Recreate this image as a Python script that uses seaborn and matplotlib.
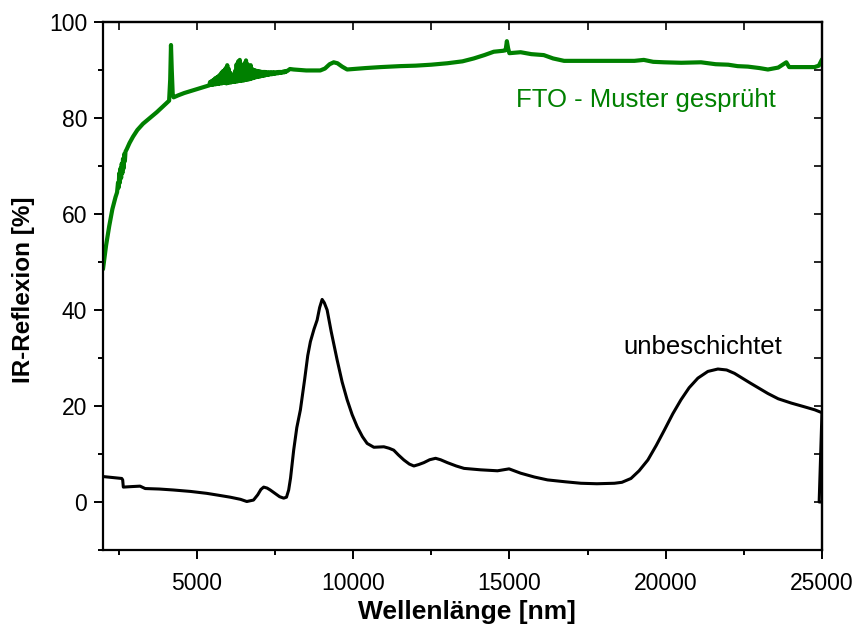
import numpy as np
import pandas as pd
import seaborn as sns
import matplotlib.pyplot as plt
from matplotlib.ticker import MultipleLocator

# FTO-coated sample (sprayed pattern)
fto_x = [2000, 2100, 2200, 2300, 2400, 2450, 2480, 2500, 2520, 2540, 2560, 2580, 2600,
         2620, 2640, 2660, 2680, 2700, 2720, 2760,
         2850, 2960, 3100, 3280, 3500, 3720, 3950, 4115, 4150, 4175, 4200, 4230, 4260,
         4400, 4600, 4800, 5000, 5200,
         5400, 5425, 5450, 5475, 5500, 5525, 5550, 5575, 5600, 5625, 5650, 5675, 5700,
         5725, 5750, 5775, 5800, 5825, 5850, 5875, 5900, 5925, 5950, 5975, 6000, 6025,
         6050, 6075, 6100, 6125, 6150, 6175, 6200, 6225, 6250, 6275, 6300, 6325, 6350,
         6375, 6400, 6425, 6450, 6475, 6500, 6525, 6550, 6575, 6600, 6625, 6650, 6675,
         6700, 6725, 6750, 6775, 6800, 6825, 6850, 6875, 6900, 6925, 6950, 6975, 7000,
         7025, 7050, 7075, 7100, 7125, 7150, 7175, 7200, 7225, 7250, 7275, 7300, 7325,
         7350, 7375, 7400, 7425, 7450, 7475, 7500, 7525, 7550, 7575, 7600, 7625, 7650,
         7675, 7700, 7725, 7750, 7775, 7800, 7825, 7850, 7875, 7900,
         7980, 8100, 8500, 8950, 9100, 9250, 9380, 9500, 9650, 9810, 10000, 10400,
         10880, 11500, 12000, 12500, 13015, 13500, 13860, 14200, 14500, 14800, 14880,
         14920, 14960, 15000, 15200, 15360, 15700, 16100, 16400, 16750, 17500, 18350,
         19000, 19300, 19600, 19950, 20500, 21130, 21600, 22000, 22300, 22630, 23000,
         23270, 23600, 23860, 23950, 24300, 24760, 24900, 25000]
fto_y = [48.5, 53.5, 57.5, 61.0, 63.5, 64.5, 66.5, 65.5, 68.5, 66.5, 69.5, 67.5, 70.5,
         68.5, 71.5, 69.5, 72.5, 71.0, 73.0, 73.5,
         74.8, 76.1, 77.5, 78.8, 80.0, 81.2, 82.6, 83.6, 88.0, 95.2, 90.0, 85.0, 84.3,
         84.7, 85.2, 85.6, 86.0, 86.4,
         86.8, 87.5, 86.9, 87.7, 86.9, 87.9, 87.0, 88.2, 87.0, 88.4, 87.1, 88.6, 87.1,
         88.9, 87.2, 89.3, 87.2, 89.7, 87.3, 89.9, 87.3, 90.4, 87.2, 91.0, 87.3, 90.2,
         87.4, 89.4, 87.4, 89.0, 87.5, 88.8, 87.5, 89.8, 87.6, 91.2, 87.6, 91.8, 87.7,
         92.1, 87.7, 90.6, 87.8, 90.0, 87.8, 91.4, 87.9, 92.0, 88.0, 91.2, 88.0, 90.4,
         88.1, 91.0, 88.2, 90.2, 88.3, 90.0, 88.4, 89.9, 88.5, 89.8, 88.6, 89.7, 88.6,
         89.7, 88.7, 89.6, 88.8, 89.6, 88.8, 89.6, 88.9, 89.5, 89.0, 89.5, 89.0, 89.5,
         89.1, 89.5, 89.1, 89.5, 89.2, 89.5, 89.2, 89.5, 89.3, 89.5, 89.3, 89.6, 89.4,
         89.6, 89.4, 89.6, 89.5, 89.7, 89.5, 89.7, 89.6, 89.8, 89.8,
         90.2, 90.1, 89.9, 89.9, 90.3, 91.2, 91.6, 91.4, 90.7, 90.1, 90.2, 90.4,
         90.6, 90.8, 90.9, 91.1, 91.4, 91.8, 92.4, 93.1, 93.8, 94.0, 94.1,
         96.0, 94.5, 93.5, 93.6, 93.7, 93.3, 93.1, 92.4, 91.9, 91.9, 91.9,
         91.9, 92.1, 91.7, 91.6, 91.5, 91.6, 91.2, 91.1, 90.8, 90.7, 90.4,
         90.1, 90.5, 91.6, 90.6, 90.6, 90.6, 90.9, 92.2]

# Uncoated reference sample
plain_x = [2000, 2300, 2600, 2630, 2650, 2900, 3185, 3350, 3800, 4250, 4800, 5320,
           5700, 6070, 6400, 6600, 6815, 6950, 7050, 7140, 7250, 7350, 7500, 7650,
           7780, 7870, 7940, 8000, 8100, 8200, 8315, 8450, 8550, 8635, 8750, 8850,
           8930, 9010, 9080, 9170, 9300, 9490, 9650, 9810, 9970, 10130, 10300, 10450,
           10665, 10985, 11150, 11300, 11450, 11625, 11800, 11945, 12100, 12265, 12450,
           12640, 12800, 13015, 13300, 13550, 14080, 14620, 14990, 15360, 15800, 16220,
           16800, 17290, 17800, 18360, 18600, 18890, 19150, 19430, 19700, 19960, 20230,
           20490, 20750, 21030, 21350, 21670, 21950, 22200, 22700, 23270, 23600, 24020,
           24400, 24770, 25000, 24910, 24990]
plain_y = [5.3, 5.1, 4.9, 4.6, 3.1, 3.2, 3.3, 2.8, 2.7, 2.5, 2.2, 1.8,
           1.4, 1.0, 0.55, 0.1, 0.4, 1.5, 2.6, 3.1, 2.9, 2.5, 1.8, 1.1,
           0.8, 1.0, 2.5, 5.0, 10.8, 15.5, 19.2, 25.5, 30.5, 33.4, 36.0, 37.9,
           40.5, 42.2, 41.5, 40.0, 35.5, 29.6, 25.0, 21.3, 18.2, 15.7, 13.6, 12.2,
           11.4, 11.5, 11.2, 10.8, 9.8, 8.75, 7.9, 7.5, 7.8, 8.2, 8.8,
           9.1, 8.8, 8.2, 7.5, 7.0, 6.7, 6.5, 6.9, 6.0, 5.2, 4.6,
           4.2, 3.9, 3.8, 3.9, 4.1, 4.9, 6.5, 8.75, 11.8, 15.0, 18.4,
           21.3, 23.8, 25.8, 27.2, 27.7, 27.5, 26.8, 24.8, 22.6, 21.5, 20.6,
           19.9, 19.2, 18.6, 0.0, 0.0]

fto = pd.DataFrame({"wl": fto_x, "r": fto_y})
plain = pd.DataFrame({"wl": plain_x, "r": plain_y})

sns.set_theme(style="ticks")
plt.rcParams["font.family"] = ["Liberation Sans", "DejaVu Sans"]
plt.rcParams["text.color"] = "black"
plt.rcParams["axes.labelcolor"] = "black"

fig = plt.figure(figsize=(8.54, 6.37), dpi=100)
ax = fig.add_axes([0.1206, 0.1366, 0.8419, 0.8289])

green = "#008000"
sns.lineplot(data=fto, x="wl", y="r", ax=ax, color=green, lw=3.0, sort=False,
             estimator=None)
sns.lineplot(data=plain, x="wl", y="r", ax=ax, color="black", lw=2.2, sort=False,
             estimator=None)

ax.set_xlim(2000, 25000)
ax.set_ylim(-10, 100)
ax.xaxis.set_major_locator(MultipleLocator(5000))
ax.xaxis.set_minor_locator(MultipleLocator(2500))
ax.yaxis.set_major_locator(MultipleLocator(20))
ax.yaxis.set_minor_locator(MultipleLocator(10))
ax.set_xticks([5000, 10000, 15000, 20000, 25000])
ax.set_yticks([0, 20, 40, 60, 80, 100])

for s in ax.spines.values():
    s.set_linewidth(1.6)
    s.set_color("black")

ax.tick_params(which="major", direction="out", length=6.5, width=1.4, labelsize=16.5,
               colors="black")
ax.tick_params(axis="x", which="major", pad=9)
ax.tick_params(axis="y", which="major", pad=5)
ax.tick_params(which="minor", direction="out", length=3.5, width=1.4, colors="black")

top = ax.secondary_xaxis("top")
top.xaxis.set_major_locator(MultipleLocator(2500))
top.tick_params(direction="in", length=6, width=1.4, labeltop=False)
top.spines["top"].set_linewidth(1.6)
right = ax.secondary_yaxis("right")
right.yaxis.set_major_locator(MultipleLocator(10))
right.tick_params(direction="in", length=6, width=1.4, labelright=False)
right.spines["right"].set_linewidth(1.6)

ax.set_xlabel("Wellenlänge [nm]", fontsize=19, fontweight="bold")
ax.set_ylabel("IR-Reflexion [%]", fontsize=17.5, fontweight="bold")
ax.xaxis.set_label_coords(0.506, -0.1174)
ax.xaxis.label.set_va("center")
ax.yaxis.set_label_coords(-0.1099, 0.492)
ax.yaxis.label.set_va("center")

ax.text(15200, 83.8, "FTO - Muster gesprüht", color=green, fontsize=18.5,
        ha="left", va="center")
ax.text(18640, 32.3, "unbeschichtet", color="black", fontsize=18.5,
        ha="left", va="center")

fig.savefig("out.png", dpi=100)
